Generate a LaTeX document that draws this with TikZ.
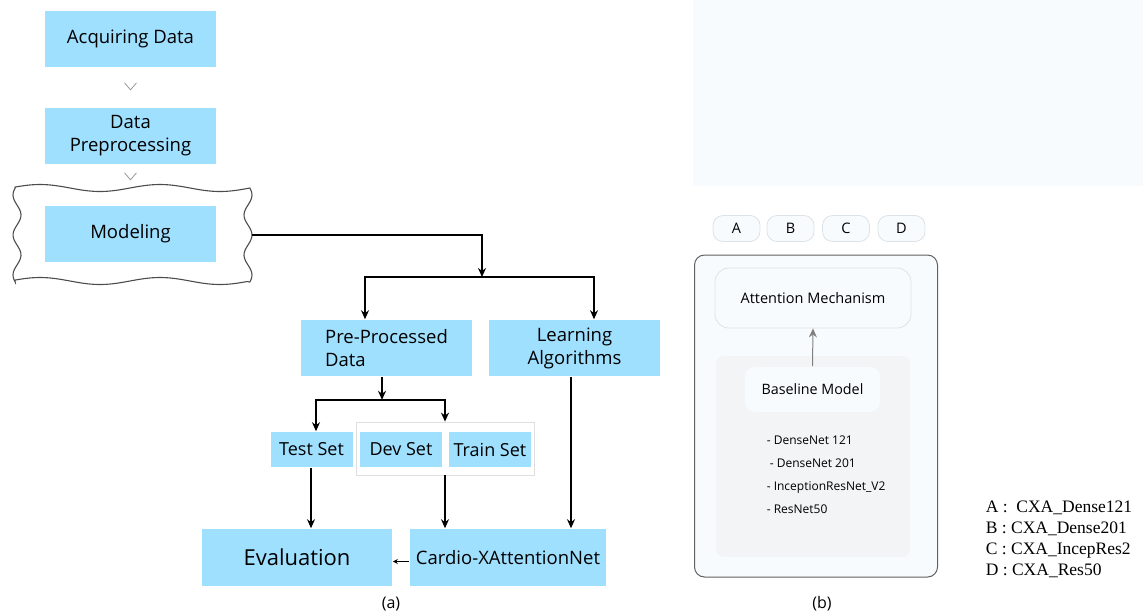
\documentclass[tikz,border=0pt]{standalone}
\usepackage{fontspec}
\setmainfont{Open Sans}
\newfontfamily\legendfont{Liberation Serif}
\usetikzlibrary{arrows.meta,positioning,calc}
\definecolor{boxblue}{HTML}{A0E0FF}
\definecolor{palebg}{HTML}{F7FBFD}
\definecolor{zonegrey}{HTML}{F2F4F5}
\definecolor{pillline}{HTML}{DCE3E8}

\begin{document}
\begin{tikzpicture}[x=1pt,y=-1pt,>={Stealth[length=9pt,width=8pt]},line width=1.6pt,
    blk/.style={fill=boxblue,inner sep=0pt,align=center,minimum width=171pt,minimum height=56pt,font=\fontsize{18.5}{23}\selectfont},
    setbox/.style={fill=boxblue,inner sep=0pt,minimum width=82pt,minimum height=35pt,font=\fontsize{18}{22}\selectfont},
    chev/.style={draw=gray!80,line width=0.8pt},
    pill/.style={draw=pillline,fill=palebg,line width=0.8pt,rounded corners=10pt,minimum width=47pt,minimum height=26pt,inner sep=0pt,font=\fontsize{14.5}{16}\selectfont},
    soft/.style={draw=pillline,fill=palebg,line width=0.8pt,rounded corners=14pt,inner sep=0pt}]
\useasboundingbox (0,0) rectangle (1148,614);

\node[blk] (acq) at (130.5,39) {Acquiring Data};
\node[blk] (prep) at (130.5,136) {Data\\Preprocessing};
\node[blk] (model) at (130.5,234) {Modeling};
\node[minimum width=238pt,minimum height=98pt,inner sep=0pt] (wave) at (132,235) {};

\draw[chev] ($(acq.south)+(-6,15)$) -- ++(6,7) -- ++(6,-7);
\draw[chev] ($(prep.south)+(-6,8)$) -- ++(6,7) -- ++(6,-7);

\draw[gray!60!black,line width=1.1pt]
    plot[domain=15:247,samples=80] (\x,{188-3.5*cos(3*(\x-40))})
 -- plot[domain=188:282,samples=40] ({248+4*cos(9*(\x-195))},\x)
 -- plot[domain=247:15,samples=80] (\x,{281-3.5*cos(3*(\x-40))})
 -- plot[domain=282:188,samples=40] ({17-4*cos(9*(\x-195))},\x) -- cycle;

\node[blk,align=left] (ppd) at (386.5,348) {Pre-Processed\\Data};
\node[blk] (learn) at (574.5,348) {Learning\\Algorithms};

\node[draw=gray!25,line width=0.8pt,minimum width=178pt,minimum height=53pt] (trio) at (445.5,448.5) {};
\node[setbox] (test) at (311.5,449.5) {Test Set};
\node[setbox] (dev) at (401,449.5) {Dev Set};
\node[setbox] (train) at (490,449.5) {Train Set};

\node[blk,minimum width=190pt,minimum height=57pt,font=\fontsize{22}{26}\selectfont] (eval) at (297,557.5) {Evaluation};
\node[blk,minimum width=196pt,minimum height=57pt] (cardio) at (508,557.5) {Cardio-XAttentionNet};

\coordinate (fork) at (482,277);
\draw[->] (wave.east) -| (fork);
\draw[->] (fork) -| ($(ppd.north)+(-21.5,0)$);
\draw[->] (fork) -| ($(learn.north)+(19.5,0)$);
\draw[->] ($(ppd.south)+(-4.5,0)$) -- ++(0,23) coordinate (split);
\draw[->] (split) -| ($(test.north)+(4.5,0)$);
\draw[->] (split) -| ($(trio.north)+(-0.5,0)$);
\draw[->] ($(test.south)+(-0.5,0)$) coordinate (ts) -- (ts |- eval.north);
\draw[->] ($(trio.south)+(-0.5,0)$) coordinate (tr) -- (tr |- cardio.north);
\draw[->] ($(learn.south)+(-3.5,0)$) coordinate (ls) -- (ls |- cardio.north);
\draw[-{Stealth[length=5pt,width=5pt]},line width=1.2pt] ($(cardio.west)+(0,4)$) -- ($(eval.east)+(0,4)$);

\node[font=\fontsize{16}{18}\selectfont] (capa) at (391,604) {(a)};

\fill[palebg] (693,0) rectangle (1143,186);
\foreach \l/\px in {A/736.5,B/790.5,C/846,D/901.5}
    \node[pill] (pill\l) at (\px,228.5) {\l};
\node[draw=gray!75!black,fill=palebg,line width=1pt,rounded corners=10pt,minimum width=243pt,minimum height=322pt] (cxa) at (816,416) {};
\node[soft,minimum width=196pt,minimum height=60pt,font=\fontsize{14.5}{17}\selectfont] (att) at (813,298) {Attention Mechanism};
\node[fill=zonegrey,rounded corners=8pt,minimum width=194pt,minimum height=201pt] (zone) at (813,456.5) {};
\node[fill=palebg,rounded corners=10pt,minimum width=135pt,minimum height=45pt,font=\fontsize{14.3}{17}\selectfont] (bl) at (812.5,389.5) {Baseline Model};
\draw[->,gray,line width=1pt] (bl.north) -- (att.south);
\node[align=left,anchor=north west,inner sep=0pt,font=\fontsize{12}{23}\selectfont] (nets) at (766,435)
    {- DenseNet 121\\\hspace{3pt}- DenseNet 201\\- InceptionResNet\_V2\\- ResNet50};

\node[font=\fontsize{16}{18}\selectfont] (capb) at (822,604) {(b)};

\node[align=left,anchor=north west,inner sep=0pt,font=\legendfont\fontsize{17.5}{21}\selectfont] (legend) at (985,500)
    {A :\ \ CXA\_Dense121\\B : CXA\_Dense201\\C : CXA\_IncepRes2\\D : CXA\_Res50};
\end{tikzpicture}
\end{document}
